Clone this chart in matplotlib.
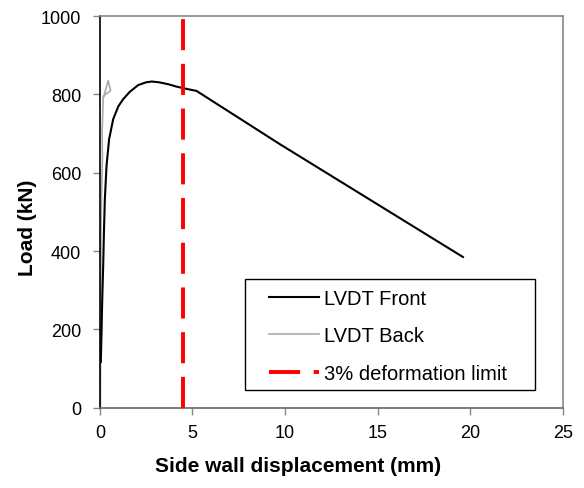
import matplotlib
matplotlib.use("Agg")
from matplotlib import pyplot as plt
from matplotlib.patches import Rectangle

plt.rcParams['font.family'] = ['Liberation Sans', 'DejaVu Sans']

front_x = [0.05, 0.09, 0.13, 0.18, 0.22, 0.27, 0.36, 0.5, 0.72, 1.0, 1.26, 1.6, 2.07, 2.5, 2.8, 3.2, 3.7, 4.14, 4.6, 5.22, 9.72, 19.6]
front_y = [117, 193, 280, 363, 450, 533, 618, 686, 737, 770, 788, 806, 824, 831, 833, 831, 826, 820, 815, 809, 673, 385]

back_x = [0.03, 0.04, 0.05, 0.06, 0.08, 0.1, 0.14, 0.12, 0.16, 0.18, 0.45, 0.58, 0.45, 0.3, 0.18]
back_y = [0, 150, 300, 450, 500, 560, 640, 700, 760, 790, 835, 810, 805, 800, 795]

limit_x = 4.5

fig = plt.figure(figsize=(5.84, 4.89), dpi=100)
ax = fig.add_axes([0.171, 0.164, 0.793, 0.801])

ax.plot(front_x, front_y, color='black', lw=1.5, label='LVDT Front', zorder=3)
ax.plot(back_x, back_y, color='#aaaaaa', lw=1.2, label='LVDT Back', zorder=2)
ax.axvline(limit_x, color='red', lw=2.8, dashes=(8, 3.5), label='3% deformation limit', zorder=4)

ax.set_xlim(0, 25)
ax.set_ylim(0, 1000)
ax.set_xticks([0, 5, 10, 15, 20, 25])
ax.set_yticks([0, 200, 400, 600, 800, 1000])
ax.tick_params(direction='out', length=5, width=1, color='#888888', labelsize=13)
ax.tick_params(axis='x', pad=7)
ax.tick_params(axis='y', pad=8.5)
for s in ax.spines.values():
    s.set_color('#888888')
    s.set_linewidth(1.2)
ax.spines['left'].set_color('black')
ax.spines['bottom'].set_color('#666666')

ax.set_xlabel('Side wall displacement (mm)', fontsize=15, fontweight='bold')
ax.set_ylabel('Load (kN)', fontsize=15, fontweight='bold')
ax.xaxis.set_label_coords(0.428, -0.122)
ax.yaxis.set_label_coords(-0.136, 0.462)

# legend frame drawn by hand: padding differs sideways and up/down
ax.add_patch(Rectangle((0.313, 0.046), 0.627, 0.283, transform=ax.transAxes,
                       facecolor='white', edgecolor='black', lw=1.0, zorder=5))
leg = ax.legend(loc='upper left', bbox_to_anchor=(0.365, 0.304), fontsize=14.5, frameon=False,
                handlelength=2.5, borderpad=0, labelspacing=0.92, handletextpad=0.25,
                borderaxespad=0)
leg.set_zorder(6)

plt.savefig('out.png')
